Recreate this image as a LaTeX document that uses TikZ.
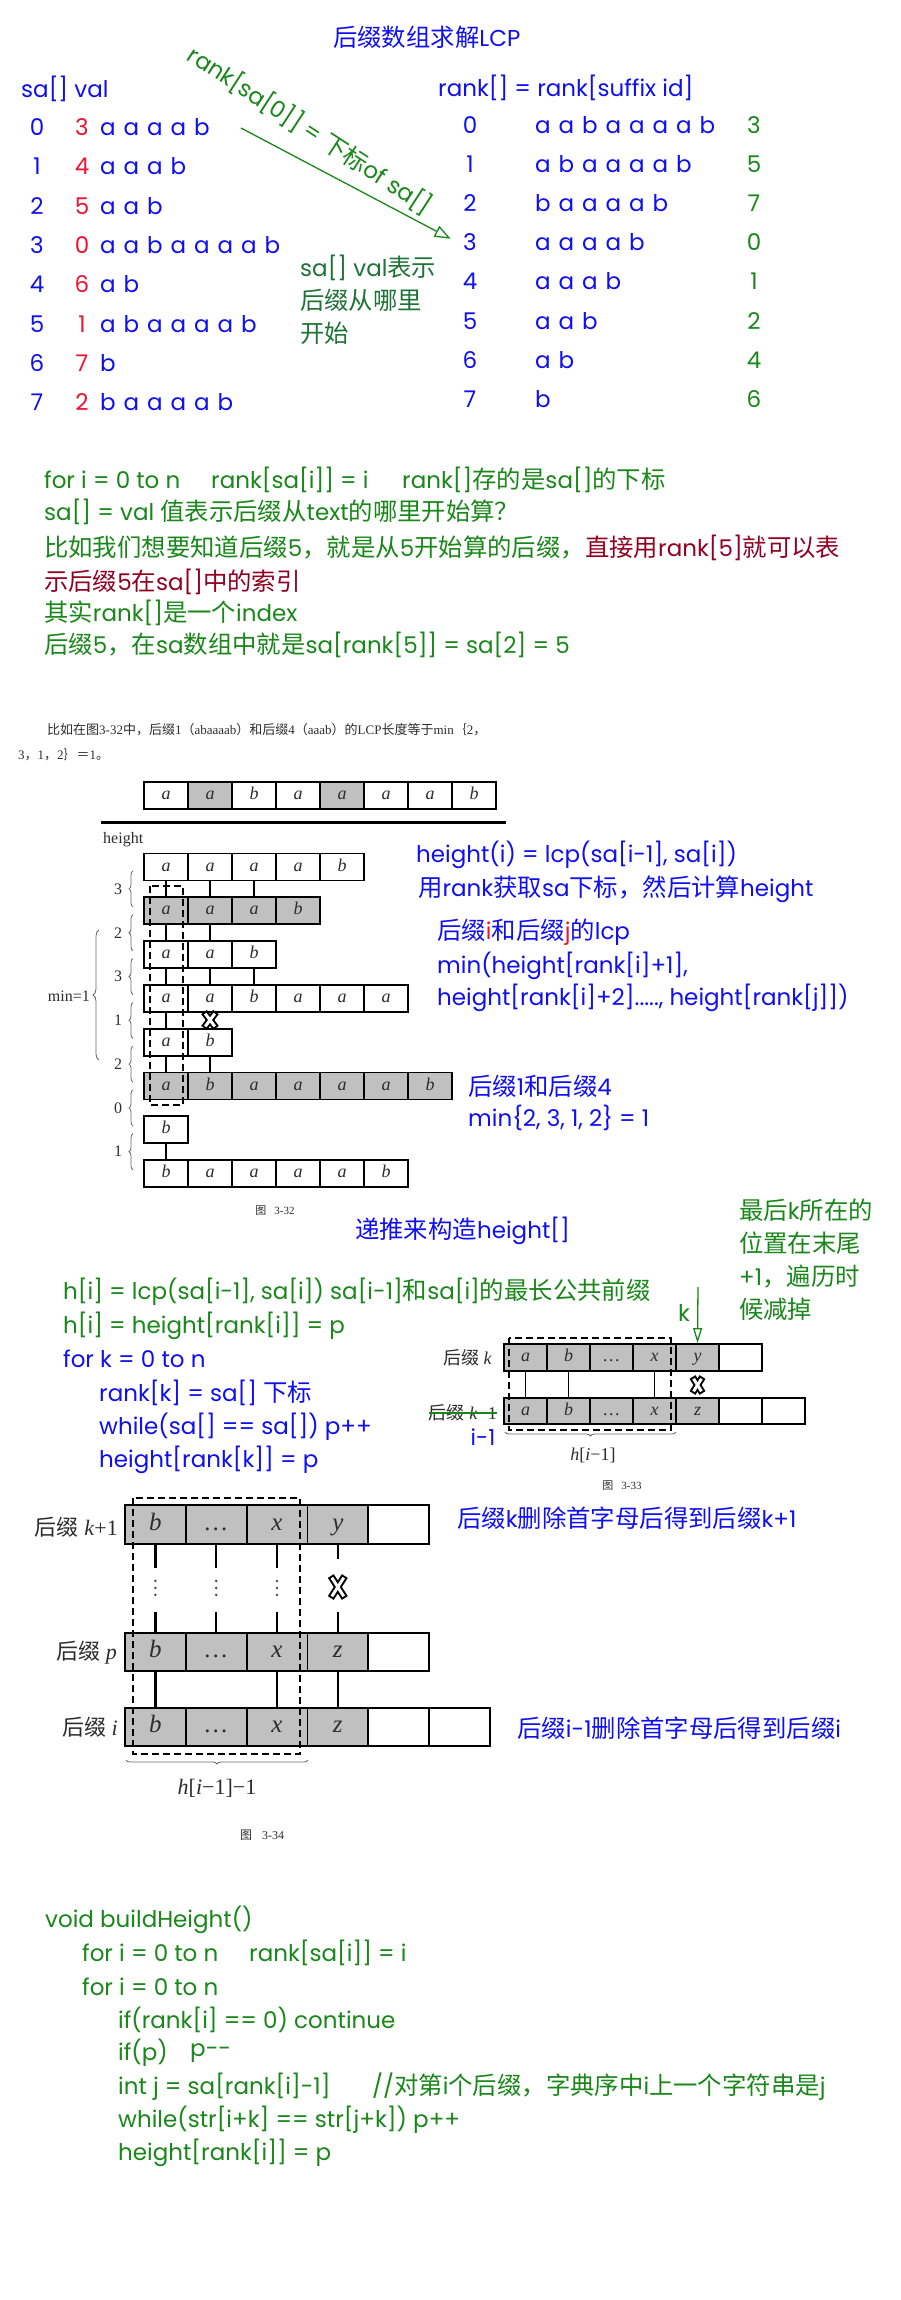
\documentclass[tikz,border=0pt]{standalone}
\usepackage{fontspec}
\setmainfont{Poppins}
\newfontfamily\latfont{Poppins}
\newfontfamily\cjkfont[Scale=1.06]{Noto Sans CJK SC}
\newfontfamily\bookcjk{Noto Sans CJK SC}
\newfontfamily\bookfont{Liberation Serif}
\usetikzlibrary{arrows.meta, positioning, decorations.pathreplacing, calc}

\definecolor{myblue}{RGB}{15,15,240}
\definecolor{myred}{RGB}{235,20,50}
\definecolor{mygreen}{RGB}{25,135,25}
\definecolor{tealgreen}{RGB}{30,115,55}
\definecolor{darkred}{RGB}{145,0,35}
\definecolor{cellgray}{RGB}{192,192,192}
\definecolor{bookgray}{RGB}{45,45,45}

\chardef\cjkclass=7
\newcommand\cjkrange[2]{\count255=#1\relax
  \loop\XeTeXcharclass\count255=\cjkclass\relax
  \ifnum\count255<#2\relax\advance\count255 by 1\relax\repeat}
\cjkrange{"3000}{"303F}
\cjkrange{"4E00}{"9FFF}
\cjkrange{"FF00}{"FFEF}
\newcommand\backfont{\latfont}
\newcommand\cjkswitch{\cjkfont}
\newcommand\tsz[1]{\fontsize{#1}{#1}\selectfont}
\newcommand\bk[1]{\def\backfont{\bookfont}\def\cjkswitch{\bookcjk}\bookfont\fontsize{#1}{#1}\selectfont}
\XeTeXinterchartoks 0 \cjkclass = {\cjkswitch}
\XeTeXinterchartoks 4095 \cjkclass = {\cjkswitch}
\XeTeXinterchartoks \cjkclass 0 = {\backfont}
\XeTeXinterchartoks \cjkclass 4095 = {\backfont}
\XeTeXinterchartokenstate=1

\newcommand\xcut[4]{%
  \draw[line width=7pt] (#1-#3,#2-#4) -- (#1+#3,#2+#4);
  \draw[line width=7pt] (#1-#3,#2+#4) -- (#1+#3,#2-#4);
  \draw[line width=3pt, white, shorten <=2pt, shorten >=2pt] (#1-#3,#2-#4) -- (#1+#3,#2+#4);
  \draw[line width=3pt, white, shorten <=2pt, shorten >=2pt] (#1-#3,#2+#4) -- (#1+#3,#2-#4);}

\begin{document}
\begin{tikzpicture}[x=1pt, y=-1pt,
    txt/.style={inner sep=0pt, font=\tsz{23}},
    fix/.style={text height=16pt, text depth=5pt},
    note/.style={txt, anchor=west},
    book/.style={inner sep=0pt, anchor=west, text=bookgray, font=\bk{13}},
    cell/.style={draw, line width=1.8pt, inner sep=0pt, minimum width=44pt, minimum height=27pt, text height=11pt, text depth=3pt, text=bookgray, font=\bk{18}\itshape},
    lcp/.style={line width=2.2pt},
    brc/.style={decorate, decoration={brace, amplitude=4pt}, draw=black!60, line width=0.8pt},
    dashbox/.style={line width=2pt, dash pattern=on 7pt off 4pt},
    garrow/.style={-{Triangle[open, length=16pt, width=12pt]}, draw=mygreen, line width=1.3pt}
  ]
  \fill[white] (0,0) rectangle (900,2300);
  \useasboundingbox (0,0) rectangle (900,2300);

  \node[note, text=myblue] (title) at (333,37) {后缀数组求解LCP};
  \node[note, text=myblue] (sahead) at (21,89) {sa[] val};
  \node[note, text=myblue] (rkhead) at (438,88) {rank[] = rank[suffix id]};

  \foreach \v/\s [count=\i from 0] in {3/{a,a,a,a,b}, 4/{a,a,a,b}, 5/{a,a,b}, 0/{a,a,b,a,a,a,a,b}, 6/{a,b}, 1/{a,b,a,a,a,a,b}, 7/{b}, 2/{b,a,a,a,a,b}} {
    \node[txt, fix, text=myblue] (sai\i) at (37,{130+39.3*\i}) {\i};
    \node[txt, fix, text=myred] (sav\i) at (82,{130+39.3*\i}) {\v};
    \foreach \ch [count=\k from 0] in \s
      \node[txt, fix, anchor=west, text=myblue] (sas\i-\k) at ({100+23.5*\k},{130+39.3*\i}) {\ch};
  }
  \foreach \v/\s [count=\i from 0] in {3/{a,a,b,a,a,a,a,b}, 5/{a,b,a,a,a,a,b}, 7/{b,a,a,a,a,b}, 0/{a,a,a,a,b}, 1/{a,a,a,b}, 2/{a,a,b}, 4/{a,b}, 6/{b}} {
    \node[txt, fix, text=myblue] (rki\i) at (470,{128+39.1*\i}) {\i};
    \foreach \ch [count=\k from 0] in \s
      \node[txt, fix, anchor=west, text=myblue] (rks\i-\k) at ({535+23.5*\k},{128+39.1*\i}) {\ch};
    \node[txt, fix, text=mygreen] (rkv\i) at (754,{128+39.1*\i}) {\v};
  }

  \node[txt, text=mygreen, rotate=-33] (rklab) at (310,130) {rank[sa[0]] = 下标of sa[]};
  \coordinate (arrS) at (241,128);
  \draw[garrow, shorten >=14pt] (arrS) -- (rki3.west);
  \node[note, text=tealgreen, align=left, font=\fontsize{23}{33}\selectfont] (valnote) at (300,300) {sa[] val表示\\后缀从哪里\\开始};

  \node[note, text=mygreen] (p1a) at (44,480) {for i = 0 to n};
  \node[note, text=mygreen] (p1b) at (211,480) {rank[sa[i]] = i};
  \node[note, text=mygreen] (p1c) at (402,480) {rank[]存的是sa[]的下标};
  \node[note, text=mygreen] (p2) at (44,512) {sa[] = val 值表示后缀从text的哪里开始算？};
  \node[note, text=mygreen] (p3) at (44,548) {比如我们想要知道后缀5，就是从5开始算的后缀，\textcolor{darkred}{直接用rank[5]就可以表}};
  \node[note, text=darkred] (p4) at (44,582) {示后缀5在sa[]中的索引};
  \node[note, text=mygreen] (p5) at (44,613) {其实rank[]是一个index};
  \node[note, text=mygreen] (p6) at (44,645) {后缀5，在sa数组中就是sa[rank[5]] = sa[2] = 5};

  \node[book] (bk1) at (47,730) {比如在图3-32中，后缀1（abaaaab）和后缀4（aaab）的LCP长度等于min｛2，};
  \node[book] (bk2) at (18,755) {3，1，2｝＝1。};

  \foreach \ch/\f [count=\k from 0] in {a/white, a/cellgray, b/white, a/white, a/cellgray, a/white, a/white, b/white}
    \node[cell, fill=\f] (top\k) at ({166+44*\k},795.5) {\ch};
  \draw[line width=3pt] (101,822) -- (506,822);
  \node[book, font=\bk{16}] (hgt) at (103,840) {height};

  \foreach \y/\f/\s [count=\r from 0] in {867/white/{a,a,a,a,b}, 910.8/cellgray/{a,a,a,b}, 954.6/white/{a,a,b}, 998.4/white/{a,a,b,a,a,a}, 1042.2/white/{a,b}, 1086/cellgray/{a,b,a,a,a,a,b}, 1129.8/white/{b}, 1173.6/white/{b,a,a,a,a,b}}
    \foreach \ch [count=\k from 0] in \s
      \node[cell, fill=\f] (h\r-\k) at ({166+44*\k},\y) {\ch};
  \foreach \r/\cols in {0/{0,1,2}, 1/{0,1}, 2/{0,1,2}, 3/{0}, 4/{0,1}, 6/{0}} {
    \pgfmathtruncatemacro\rn{\r+1}
    \foreach \k in \cols
      \draw[lcp] (h\r-\k.south) -- (h\rn-\k.north);
  }
  \xcut{210}{1020}{6}{8}
  \draw[dashbox] (150,886) rectangle (183,1105);
  \foreach \lab [count=\r from 0] in {3,2,3,1,2,0,1} {
    \draw[brc] (133,{888.9+43.8*\r+18}) -- (133,{888.9+43.8*\r-18});
    \node[book, anchor=center, font=\bk{16}] (hl\r) at (118,{888.9+43.8*\r}) {\lab};
  }
  \draw[brc, decoration={brace, amplitude=6pt}] (99,1060) -- (99,930);
  \node[book, anchor=east, font=\bk{16}] (minlab) at (90,996) {min=1};
  \node[book, anchor=center, font=\bk{11}] (cap32) at (275,1211) {图\hspace{8pt}3-32};

  \node[note, text=myblue] (ht1) at (416,855) {height(i) = lcp(sa[i-1], sa[i])};
  \node[note, text=myblue] (ht2) at (418,889) {用rank获取sa下标，然后计算height};
  \node[note, text=myblue] (ht3) at (437,932) {后缀\textcolor{myred}{i}和后缀\textcolor{myred}{j}的lcp};
  \node[note, text=myblue] (ht4) at (437,966) {min(height[rank[i]+1],};
  \node[note, text=myblue] (ht5) at (437,998) {height[rank[i]+2]....., height[rank[j]])};
  \node[note, text=myblue] (ht6) at (468,1086) {后缀1和后缀4};
  \node[note, text=myblue] (ht7) at (468,1118) {min\{2, 3, 1, 2\} = 1};

  \node[note, text=myblue] (sec3) at (355,1231) {递推来构造height[]};
  \node[note, text=mygreen, align=left, font=\fontsize{23}{33}\selectfont] (knote) at (739,1259.5) {最后k所在的\\位置在末尾\\+1，遍历时\\候减掉};
  \node[note, text=mygreen] (h1) at (63,1292) {h[i] = lcp(sa[i-1], sa[i]) sa[i-1]和sa[i]的最长公共前缀};
  \node[note, text=mygreen] (h2) at (63,1326) {h[i] = height[rank[i]] = p};
  \node[note, text=myblue] (h3) at (63,1359) {for k = 0 to n};
  \node[note, text=myblue] (h4) at (99,1393) {rank[k] = sa[] 下标};
  \node[note, text=myblue] (h5) at (99,1427) {while(sa[] == sa[]) p++};
  \node[note, text=myblue] (h6) at (99,1460) {height[rank[k]] = p};

  \foreach \ch/\f [count=\k from 0] in {a/cellgray, b/cellgray, \ldots/cellgray, x/cellgray, y/cellgray, /white}
    \node[cell, fill=\f, minimum width=43pt] (rk\k) at ({525.5+43*\k},1357.5) {\ch};
  \foreach \ch/\f [count=\k from 0] in {a/cellgray, b/cellgray, \ldots/cellgray, x/cellgray, z/cellgray, /white, /white}
    \node[cell, fill=\f, minimum width=43pt, minimum height=26pt] (rm\k) at ({525.5+43*\k},1411) {\ch};
  \foreach \k in {0,1,3}
    \draw[lcp, line width=1.8pt] (rk\k.south) -- (rm\k.north);
  \xcut{697.5}{1385}{5}{8}
  \draw[dashbox] (509,1338) rectangle (671,1430);
  \node[book, anchor=east, font=\bk{18}] (lbk) at (492,1358) {后缀 \textit{k}};
  \node[book, anchor=east, font=\bk{18}] (lbkm) at (497,1413) {后缀 \textit{k}−1};
  \draw[mygreen, line width=1.5pt] (lbkm.west) -- (lbkm.east);
  \node[txt, text=myblue, font=\tsz{22}] (im1) at (483,1437) {i-1};
  \draw[brc] (676,1432) -- (505,1432);
  \node[book, anchor=center, font=\bk{18}] (hlab33) at (593,1455) {\textit{h}[\textit{i}−1]};
  \node[book, anchor=center, font=\bk{11}] (cap33) at (622,1486) {图\hspace{8pt}3-33};
  \coordinate (kS) at (698,1287);
  \draw[garrow, -{Triangle[open, length=15pt, width=9pt]}] (kS) -- (rk4.north);
  \node[txt, text=mygreen] (klab) at (684,1313) {k};

  \foreach \ch/\f [count=\k from 0] in {b/cellgray, \ldots/cellgray, x/cellgray, y/cellgray, /white}
    \node[cell, fill=\f, minimum width=60.8pt, minimum height=39pt, text height=15pt, text depth=4pt, font=\bk{25}\itshape] (kp\k) at ({155.4+60.8*\k},1524.5) {\ch};
  \foreach \ch/\f [count=\k from 0] in {b/cellgray, \ldots/cellgray, x/cellgray, z/cellgray, /white}
    \node[cell, fill=\f, minimum width=60.8pt, minimum height=38pt, text height=15pt, text depth=4pt, font=\bk{25}\itshape] (pp\k) at ({155.4+60.8*\k},1652) {\ch};
  \foreach \ch/\f [count=\k from 0] in {b/cellgray, \ldots/cellgray, x/cellgray, z/cellgray, /white, /white}
    \node[cell, fill=\f, minimum width=60.8pt, minimum height=38pt, text height=15pt, text depth=4pt, font=\bk{25}\itshape] (ip\k) at ({155.4+60.8*\k},1727) {\ch};
  \foreach \k in {0,1,2} {
    \draw[lcp] (kp\k.south) -- ++(0,23);
    \draw[lcp] (pp\k.north) -- ++(0,-20);
    \foreach \d in {-7,0,7}
      \fill[black!70] ($(kp\k.south)+(0,{43+\d})$) circle (1.4pt);
  }
  \draw[lcp] (kp3.south) -- ++(0,14);
  \draw[lcp] (pp3.north) -- ++(0,-20);
  \xcut{337.8}{1587}{7}{11}
  \foreach \k in {0,2,3}
    \draw[lcp] (pp\k.south) -- (ip\k.north);
  \draw[dashbox] (133,1498) rectangle (300,1754);
  \node[book, anchor=east, font=\bk{22}] (lkp) at (118,1527) {后缀 \textit{k}+1};
  \node[book, anchor=east, font=\bk{22}] (lpp) at (117,1653) {后缀 \textit{p}};
  \node[book, anchor=east, font=\bk{22}] (lip) at (118,1727) {后缀 \textit{i}};
  \draw[brc] (308,1760) -- (126,1760);
  \node[book, anchor=center, font=\bk{22}] (hlab34) at (217,1788) {\textit{h}[\textit{i}−1]−1};
  \node[book, anchor=center, font=\bk{12}] (cap34) at (262,1835) {图\hspace{10pt}3-34};
  \node[note, text=myblue] (d1) at (457,1518) {后缀k删除首字母后得到后缀k+1};
  \node[note, text=myblue] (d2) at (517,1728) {后缀i-1删除首字母后得到后缀i};

  \node[note, text=mygreen] (c1) at (45,1920) {void buildHeight()};
  \node[note, text=mygreen] (c2a) at (82,1953) {for i = 0 to n};
  \node[note, text=mygreen] (c2b) at (249,1953) {rank[sa[i]] = i};
  \node[note, text=mygreen] (c3) at (82,1987) {for i = 0 to n};
  \node[note, text=mygreen] (c4) at (118,2020) {if(rank[i] == 0) continue};
  \node[note, text=mygreen] (c5a) at (118,2053) {if(p)};
  \node[note, text=mygreen] (c5b) at (190,2053) {p-{}-};
  \node[note, text=mygreen] (c6a) at (118,2087) {int j = sa[rank[i]-1]};
  \node[note, text=mygreen] (c6b) at (372,2087) {//对第i个后缀，字典序中i上一个字符串是j};
  \node[note, text=mygreen] (c7) at (118,2120) {while(str[i+k] == str[j+k]) p++};
  \node[note, text=mygreen] (c8) at (118,2153) {height[rank[i]] = p};
\end{tikzpicture}
\end{document}
